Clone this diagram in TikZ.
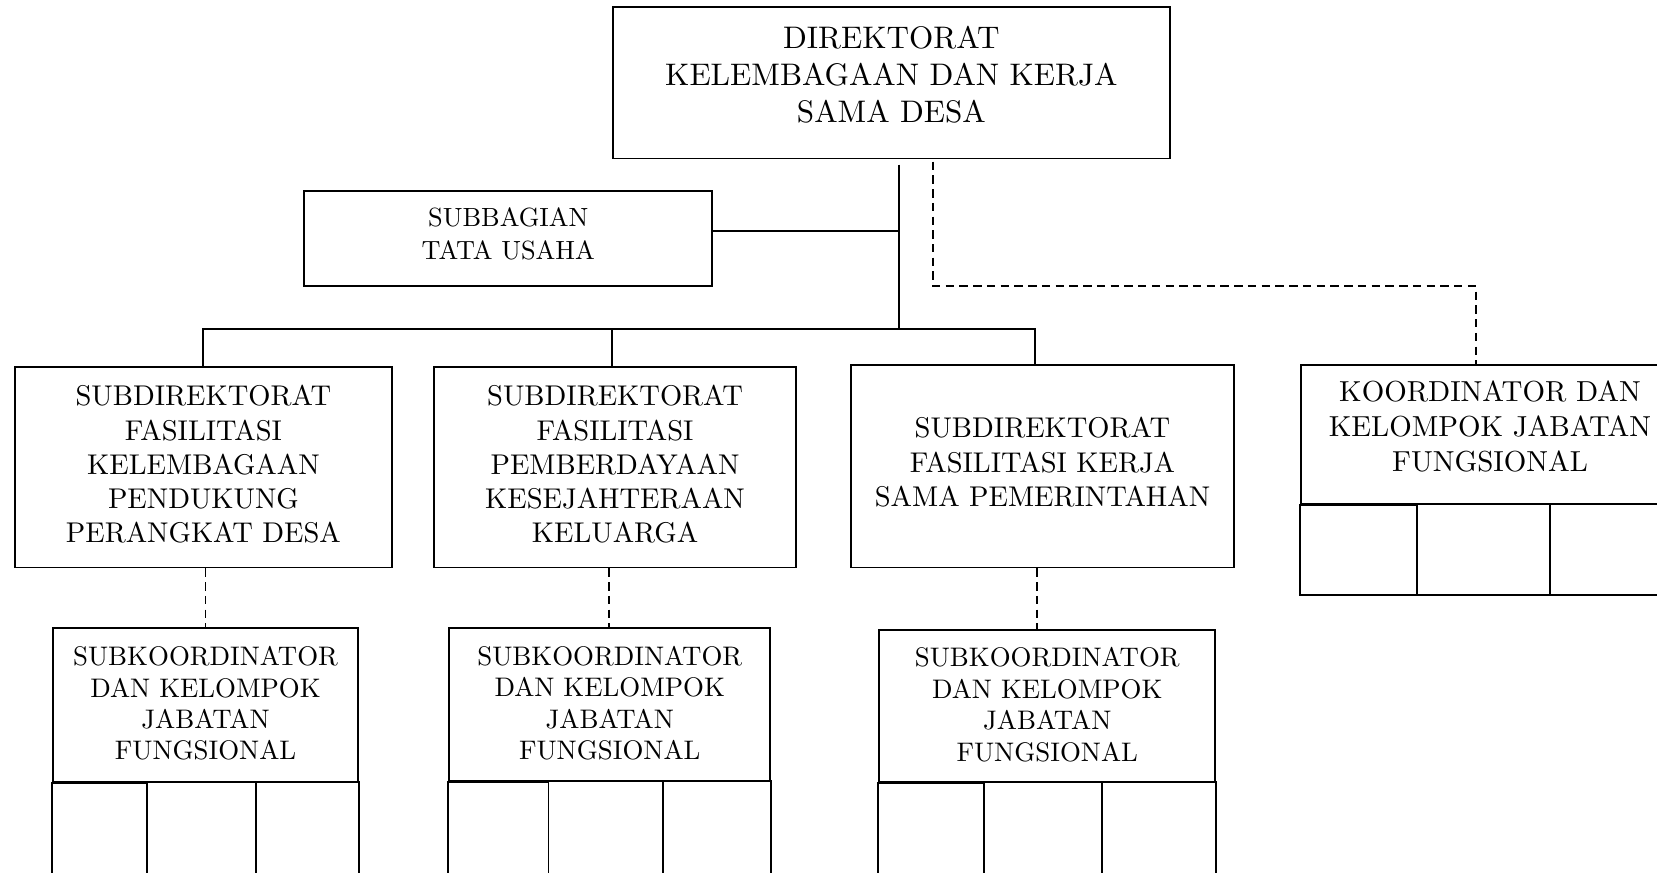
\documentclass[tikz,border=0pt]{standalone}
\usepackage{fontspec}
\newfontfamily\lmten{lmroman10-regular}[Extension=.otf]
\begin{document}
\begin{tikzpicture}[x=1pt,y=-1pt,
  box/.style={draw,line width=1.8pt,align=center,inner sep=0pt},
  cell/.style={draw,line width=1.8pt},
  conn/.style={line width=1.8pt},
  dconn/.style={line width=1.8pt,dash pattern=on 8pt off 5pt},
  ftop/.style={font=\lmten\fontsize{29.5}{35}\selectfont},
  fsub/.style={font=\lmten\fontsize{27}{32.3}\selectfont},
  fkjf/.style={font=\lmten\fontsize{27.4}{33}\selectfont},
  fsk/.style={font=\lmten\fontsize{25.4}{29.7}\selectfont},
  ftu/.style={font=\lmten\fontsize{24.9}{32}\selectfont}]
\useasboundingbox (0,0) rectangle (1568,826);
\clip (0,0) rectangle (1568,826);

% top
\node[box,ftop,minimum width=527,minimum height=143] (dir) at (843.5,78.5)
  {DIREKTORAT\\KELEMBAGAAN DAN KERJA\\SAMA DESA\\[-18pt]\mbox{}};
\node[box,ftu,minimum width=386,minimum height=90] (tu) at (481,226)
  {SUBBAGIAN\\TATA USAHA\\[-22pt]\mbox{}};

% subdirektorat
\node[box,fsub,minimum width=357,minimum height=190] (sd1) at (192.5,442)
  {SUBDIREKTORAT\\FASILITASI\\KELEMBAGAAN\\PENDUKUNG\\PERANGKAT DESA\\[-26.3pt]\mbox{}};
\node[box,fsub,minimum width=342,minimum height=190] (sd2) at (582,442)
  {SUBDIREKTORAT\\FASILITASI\\PEMBERDAYAAN\\KESEJAHTERAAN\\KELUARGA\\[-26.3pt]\mbox{}};
\node[box,fsub,minimum width=363,minimum height=192] (sd3) at (986.5,441)
  {SUBDIREKTORAT\\FASILITASI KERJA\\SAMA PEMERINTAHAN\\[-24.3pt]\mbox{}};

% koordinator
\node[box,fkjf,minimum width=358,minimum height=132] (kjf) at (1410,411)
  {KOORDINATOR DAN\\KELOMPOK JABATAN\\FUNGSIONAL\\[-18pt]\mbox{}};
\draw[cell] (kjf.south west) rectangle (1341,563);
\draw[cell] (1341,477) rectangle (1467,563);
\draw[cell] (1467,477) rectangle (kjf.south east |- 0,563);

% subkoordinator
\node[box,fsk,minimum width=289,minimum height=146] (sk1) at (194.5,667)
  {SUBKOORDINATOR\\DAN KELOMPOK\\JABATAN\\FUNGSIONAL\\[-26.7pt]\mbox{}};
\draw[cell] (sk1.south west) rectangle (139,870);
\draw[cell] (139,740) rectangle (242,870);
\draw[cell] (242,740) rectangle (sk1.south east |- 0,870);

\node[box,fsk,minimum width=304,minimum height=145] (sk2) at (577,666.5)
  {SUBKOORDINATOR\\DAN KELOMPOK\\JABATAN\\FUNGSIONAL\\[-26.7pt]\mbox{}};
\draw[cell] (sk2.south west) rectangle (519,870);
\draw[cell] (519,739) rectangle (627,870);
\draw[cell] (627,739) rectangle (sk2.south east |- 0,870);

\node[box,fsk,minimum width=318,minimum height=144] (sk3) at (991,668)
  {SUBKOORDINATOR\\DAN KELOMPOK\\JABATAN\\FUNGSIONAL\\[-26.7pt]\mbox{}};
\draw[cell] (sk3.south west) rectangle (931,870);
\draw[cell] (931,740) rectangle (1043,870);
\draw[cell] (1043,740) rectangle (sk3.south east |- 0,870);

% solid connectors
\coordinate (trunk) at (851,311);
\draw[conn] ([yshift=-5pt]trunk |- dir.south) -- (trunk);
\draw[conn] ([yshift=7pt]tu.east) -- ([yshift=7pt]tu.east -| trunk);
\draw[conn] (sd1.north) -- (sd1.north |- trunk) -- ([xshift=-7.5pt]sd3.north |- trunk) -- ([xshift=-7.5pt]sd3.north);
\draw[conn] ([xshift=-3pt]sd2.north) -- ([xshift=-3pt]sd2.north |- trunk);

% dashed connectors
\coordinate (dk) at (883,271);
\draw[dconn] ([yshift=-2pt]dk |- dir.south) -- (dk) -| ([xshift=-13pt]kjf.north);
\draw[dconn] (sk1.north |- sd1.south) -- (sk1.north);
\draw[dconn] ([xshift=-1pt]sk2.north |- sd2.south) -- ([xshift=-1pt]sk2.north);
\draw[dconn] ([xshift=-10pt]sk3.north |- sd3.south) -- ([xshift=-10pt]sk3.north);
\end{tikzpicture}
\end{document}
